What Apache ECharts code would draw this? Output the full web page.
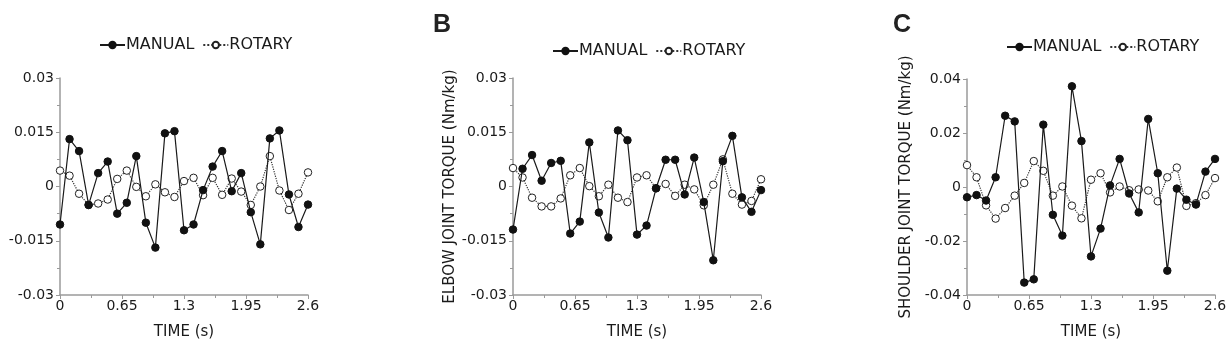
<!DOCTYPE html>
<html><head><meta charset="utf-8">
<script src="https://cdn.jsdelivr.net/npm/echarts@6/dist/echarts.min.js"></script>
<style>html,body{margin:0;padding:0;background:#fff}#c{width:1230px;height:345px}</style>
</head><body><div id="c"></div>
<script>
var time = [0,0.1,0.2,0.3,0.4,0.5,0.6,0.7,0.8,0.9,1.0,1.1,1.2,1.3,1.4,1.5,1.6,1.7,1.8,1.9,2.0,2.1,2.2,2.3,2.4,2.5,2.6];
var seriesNames = ['MANUAL','ROTARY'];
var xTicks = [0,0.65,1.3,1.95,2.6];
var yTicksAB = [-0.03,-0.015,0,0.015,0.03];
var yTicksC = [-0.04,-0.02,0,0.02,0.04];
var panelLabels = ['', 'B', 'C'];
var yNames = ['', 'ELBOW JOINT TORQUE (Nm/kg)', 'SHOULDER JOINT TORQUE (Nm/kg)'];
var xName = 'TIME (s)';

var manualA = [-0.0105,0.0131,0.0098,-0.0051,0.0037,0.0069,-0.0075,-0.0045,0.0084,-0.0100,-0.0169,0.0147,0.0153,-0.0121,-0.0105,-0.0010,0.0055,0.0098,-0.0013,0.0037,-0.0071,-0.0160,0.0133,0.0155,-0.0022,-0.0112,-0.0050];
var rotaryA = [0.0044,0.0030,-0.0020,-0.0051,-0.0047,-0.0036,0.0021,0.0044,-0.0001,-0.0027,0.0006,-0.0016,-0.0029,0.0015,0.0024,-0.0024,0.0024,-0.0023,0.0022,-0.0014,-0.0051,0.0000,0.0084,-0.0011,-0.0065,-0.0020,0.0039];
var manualB = [-0.0119,0.0049,0.0087,0.0016,0.0065,0.0071,-0.0130,-0.0097,0.0122,-0.0072,-0.0141,0.0155,0.0128,-0.0133,-0.0108,-0.0005,0.0074,0.0074,-0.0022,0.0080,-0.0043,-0.0204,0.0070,0.0140,-0.0030,-0.0070,-0.0010];
var rotaryB = [0.0051,0.0025,-0.0031,-0.0055,-0.0055,-0.0033,0.0031,0.0051,0.0001,-0.0027,0.0005,-0.0031,-0.0043,0.0025,0.0031,-0.0005,0.0007,-0.0026,0.0005,-0.0008,-0.0052,0.0005,0.0075,-0.0020,-0.0050,-0.0040,0.0020];
var manualC = [-0.0038,-0.0030,-0.0050,0.0036,0.0264,0.0243,-0.0354,-0.0342,0.0231,-0.0103,-0.0180,0.0373,0.0170,-0.0257,-0.0154,0.0006,0.0104,-0.0024,-0.0094,0.0252,0.0051,-0.0310,-0.0006,-0.0047,-0.0065,0.0057,0.0104];
var rotaryC = [0.0081,0.0036,-0.0068,-0.0117,-0.0078,-0.0032,0.0015,0.0096,0.0060,-0.0032,0.0002,-0.0069,-0.0116,0.0027,0.0051,-0.0020,0.0002,-0.0012,-0.0009,-0.0013,-0.0053,0.0036,0.0072,-0.0070,-0.0060,-0.0030,0.0033];

var panels = [
  {m: manualA, r: rotaryA, yt: yTicksAB, left: 60, top: 78, h: 225, legTop: 37},
  {m: manualB, r: rotaryB, yt: yTicksAB, left: 513, top: 78, h: 226, legTop: 43},
  {m: manualC, r: rotaryC, yt: yTicksC, left: 967, top: 79, h: 225, legTop: 39}
];

function pairs(v){ return v.map(function(y,i){ return [time[i], y]; }); }
function fmt(v){ return (Math.round(v*10000)/10000).toString(); }

var FONT = 'DejaVu Sans, Verdana, sans-serif';
var BFONT = 'Liberation Sans, Arial, sans-serif';
var axisCol = '#9a9a9a';
var txtCol = '#1a1a1a';
var grid = [], xAxis = [], yAxis = [], series = [], legend = [], graphic = [];

panels.forEach(function(p, i){
  grid.push({left: p.left, top: p.top, width: 248, height: p.h, containLabel: false});
  xAxis.push({
    type: 'value', gridIndex: i, min: xTicks[0], max: xTicks[xTicks.length-1], interval: xTicks[1]-xTicks[0],
    name: xName, nameLocation: 'middle', nameGap: 30,
    nameTextStyle: {fontFamily: FONT, fontSize: 15, color: txtCol},
    axisLine: {show: true, onZero: false, lineStyle: {color: axisCol, width: 1.5}},
    axisTick: {show: true, length: 4, lineStyle: {color: axisCol}},
    minorTick: {show: true, splitNumber: 2, length: 3, lineStyle: {color: axisCol}},
    splitLine: {show: false},
    axisLabel: {fontFamily: FONT, fontSize: 14, color: txtCol, margin: 4, formatter: fmt}
  });
  yAxis.push({
    type: 'value', gridIndex: i, min: p.yt[0], max: p.yt[p.yt.length-1], interval: p.yt[1]-p.yt[0],
    name: yNames[i], nameLocation: 'middle', nameGap: 53, nameRotate: 90,
    nameTextStyle: {fontFamily: FONT, fontSize: 15, color: txtCol},
    axisLine: {show: true, onZero: false, lineStyle: {color: axisCol, width: 1.5}},
    axisTick: {show: true, length: 4, lineStyle: {color: axisCol}},
    minorTick: {show: true, splitNumber: 2, length: 3, lineStyle: {color: axisCol}},
    splitLine: {show: false},
    axisLabel: {fontFamily: FONT, fontSize: 14, color: txtCol, margin: 6, formatter: fmt}
  });
  series.push({
    name: seriesNames[0], type: 'line', xAxisIndex: i, yAxisIndex: i, data: pairs(p.m),
    symbol: 'circle', symbolSize: 7.5, z: 3,
    lineStyle: {color: '#1a1a1a', width: 1.2},
    itemStyle: {color: '#111', borderColor: '#111', borderWidth: 1},
    animation: false
  });
  series.push({
    name: seriesNames[1], type: 'line', xAxisIndex: i, yAxisIndex: i, data: pairs(p.r),
    symbol: 'circle', symbolSize: 7.5, z: 2,
    lineStyle: {color: '#333', width: 1.2, type: 'dotted'},
    itemStyle: {color: '#fff', borderColor: '#222', borderWidth: 1},
    animation: false
  });
  legend.push({
    data: seriesNames, left: p.left + 39, top: p.legTop, padding: 0,
    itemWidth: 25, itemHeight: 8, itemGap: 8,
    textStyle: {fontFamily: FONT, fontSize: 16, color: txtCol, padding: [0,0,0,-4]},
    selectedMode: false
  });
  if (panelLabels[i]) {
    graphic.push({type: 'text', left: p.left - (i === 1 ? 80 : 74), top: 13,
      style: {text: panelLabels[i], font: 'bold 25px ' + BFONT, fill: '#222'}});
  }
});

var chart = echarts.init(document.getElementById('c'), null, {renderer: 'canvas'});
chart.setOption({
  animation: false, backgroundColor: '#fff',
  grid: grid, xAxis: xAxis, yAxis: yAxis, series: series, legend: legend, graphic: graphic
});
</script></body></html>
